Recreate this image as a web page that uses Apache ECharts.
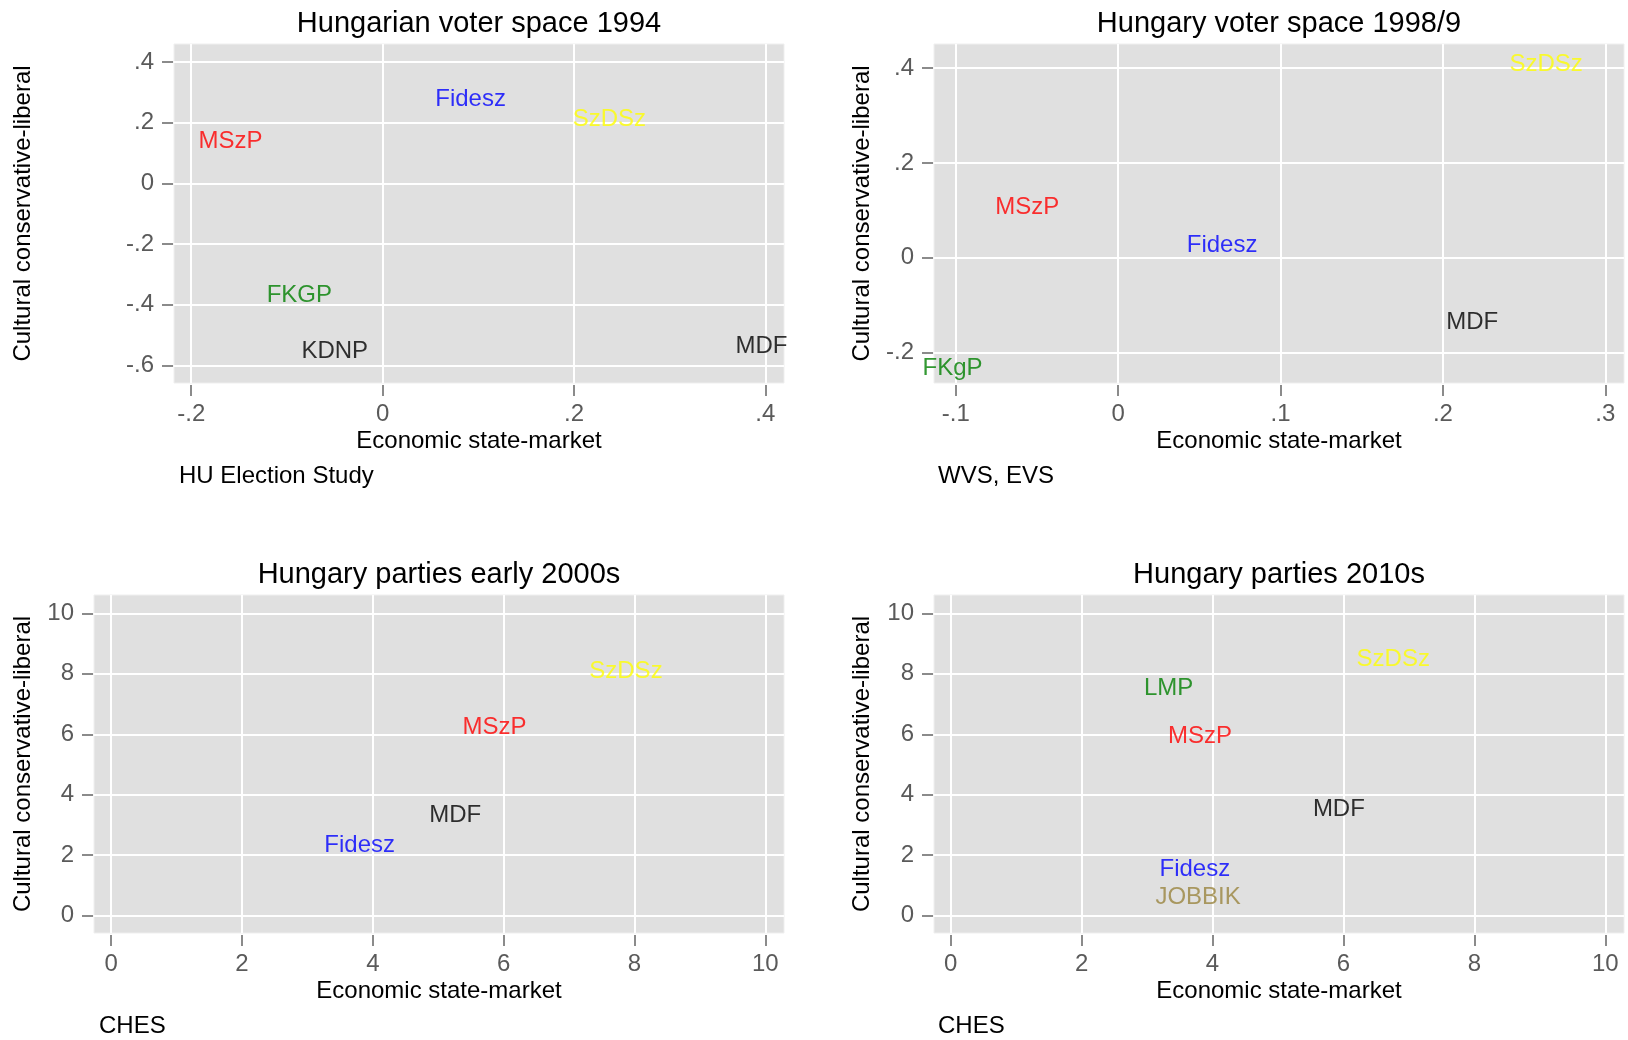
<!DOCTYPE html>
<html lang="en">
<head>
  <meta charset="UTF-8">
  <title>Hungarian party space</title>
  <style>
    body { margin: 0; padding: 0; background: #fff; }
    #chart { width: 1628px; height: 1040px; }
  </style>
</head>
<body>
  <div id="chart"></div>
  <script src="https://cdn.jsdelivr.net/npm/echarts@6/dist/echarts.min.js"></script>
  <script>
// --- data (label centres) ---
var parties1994 = ['MSzP', 'Fidesz', 'SzDSz', 'FKGP', 'KDNP', 'MDF'];
var econ1994    = [-0.159, 0.092, 0.237, -0.087, -0.050, 0.396];
var cult1994    = [0.145, 0.283, 0.218, -0.363, -0.548, -0.531];

var parties1998 = ['SzDSz', 'MSzP', 'Fidesz', 'MDF', 'FKgP'];
var econ1998    = [0.2635, -0.056, 0.064, 0.218, -0.102];
var cult1998    = [0.411, 0.110, 0.030, -0.133, -0.228];

var parties2000s = ['SzDSz', 'MSzP', 'MDF', 'Fidesz'];
var econ2000s    = [7.87, 5.86, 5.26, 3.80];
var cult2000s    = [8.15, 6.29, 3.39, 2.40];

var parties2010s = ['SzDSz', 'LMP', 'MSzP', 'MDF', 'Fidesz', 'JOBBIK'];
var econ2010s    = [6.76, 3.33, 3.81, 5.93, 3.73, 3.78];
var cult2010s    = [8.55, 7.58, 6.01, 3.59, 1.60, 0.67];

var ticks1994X = [-0.2, 0, 0.2, 0.4];
var ticks1994Y = [-0.6, -0.4, -0.2, 0, 0.2, 0.4];
var ticks1998X = [-0.1, 0, 0.1, 0.2, 0.3];
var ticks1998Y = [-0.2, 0, 0.2, 0.4];
var ticksChes  = [0, 2, 4, 6, 8, 10];

var panelTitles = ['Hungarian voter space 1994', 'Hungary voter space 1998/9',
                   'Hungary parties early 2000s', 'Hungary parties 2010s'];
var panelNotes  = ['HU Election Study', 'WVS, EVS', 'CHES', 'CHES'];

// --- styles ---
var partyColor = {
  MSzP: '#ff0000', Fidesz: '#0000ff', SzDSz: '#ffff00', FKGP: '#008000', FKgP: '#008000',
  KDNP: '#000000', MDF: '#000000', LMP: '#008000', JOBBIK: '#9a843e'
};
var FONT = '"Liberation Sans", Arial, Helvetica, sans-serif';

// plot regions (px) and axis extents
var panels = [
  { left: 174, top: 44,  width: 610, height: 339, xr: [-0.218, 0.4195], yr: [-0.658, 0.4595],
    xt: ticks1994X, yt: ticks1994Y, names: parties1994, xs: econ1994, ys: cult1994 },
  { left: 934, top: 44,  width: 690, height: 339, xr: [-0.1134, 0.3115], yr: [-0.264, 0.4507],
    xt: ticks1998X, yt: ticks1998Y, names: parties1998, xs: econ1998, ys: cult1998 },
  { left: 94,  top: 595, width: 690, height: 338, xr: [-0.262, 10.286], yr: [-0.573, 10.606],
    xt: ticksChes, yt: ticksChes, names: parties2000s, xs: econ2000s, ys: cult2000s },
  { left: 934, top: 595, width: 690, height: 338, xr: [-0.254, 10.285], yr: [-0.573, 10.606],
    xt: ticksChes, yt: ticksChes, names: parties2010s, xs: econ2010s, ys: cult2010s }
];

function fmt(v) {
  var s = String(Math.round(v * 10) / 10);
  return s.replace('0.', '.');
}

var grids = [], xAxes = [], yAxes = [], series = [], graphics = [];

panels.forEach(function (p, i) {
  grids.push({
    left: p.left, top: p.top, width: p.width, height: p.height,
    show: true, backgroundColor: '#e0e0e0', borderColor: '#efefef', borderWidth: 1
  });
  xAxes.push({
    type: 'value', gridIndex: i, min: p.xr[0], max: p.xr[1], offset: 2,
    axisLine: { show: false, onZero: false },
    axisTick: { show: true, length: 11, customValues: p.xt, lineStyle: { color: '#666', width: 1.5 } },
    axisLabel: { customValues: p.xt, formatter: fmt, margin: 17, color: '#5a5a5a',
                 fontSize: 24, fontFamily: FONT, showMinLabel: true, showMaxLabel: true },
    splitLine: { show: true, lineStyle: { color: '#ffffff', width: 2 } }
  });
  yAxes.push({
    type: 'value', gridIndex: i, min: p.yr[0], max: p.yr[1], offset: 1,
    axisLine: { show: false, onZero: false },
    axisTick: { show: true, length: 11, customValues: p.yt, lineStyle: { color: '#666', width: 1.5 } },
    axisLabel: { customValues: p.yt, formatter: fmt, margin: 19, color: '#5a5a5a',
                 fontSize: 24, fontFamily: FONT, padding: [4, 0, 0, 0],
                 showMinLabel: true, showMaxLabel: true },
    splitLine: { show: true, lineStyle: { color: '#ffffff', width: 2 } }
  });
  series.push({
    type: 'scatter', xAxisIndex: i, yAxisIndex: i, symbolSize: 1,
    itemStyle: { color: 'transparent' },
    silent: true,
    data: p.names.map(function (n, k) {
      return { name: n, value: [p.xs[k], p.ys[k]], label: { color: partyColor[n] } };
    }),
    label: {
      show: true, position: 'inside', formatter: '{b}', offset: [0, 2],
      fontSize: 24, fontFamily: FONT
    }
  });

  var cx = p.left + p.width / 2;
  var cy = p.top + p.height / 2;
  var bottom = p.top + p.height;
  // panel title
  graphics.push({ type: 'text', x: cx, y: p.top - 20, style: {
    text: panelTitles[i], fill: '#000', font: '29px ' + FONT,
    textAlign: 'center', textVerticalAlign: 'middle' } });
  // x axis title
  graphics.push({ type: 'text', x: cx, y: bottom + 58, style: {
    text: 'Economic state-market', fill: '#000', font: '24px ' + FONT,
    textAlign: 'center', textVerticalAlign: 'middle' } });
  // y axis title
  graphics.push({ type: 'text', x: i % 2 === 0 ? 23 : 862, y: cy, rotation: Math.PI / 2, style: {
    text: 'Cultural conservative-liberal', fill: '#000', font: '24px ' + FONT,
    textAlign: 'center', textVerticalAlign: 'middle' } });
  // source note
  graphics.push({ type: 'text', x: (i % 2 === 0 ? (i === 0 ? 179 : 99) : 938), y: bottom + 93, style: {
    text: panelNotes[i], fill: '#000', font: '24px ' + FONT,
    textAlign: 'left', textVerticalAlign: 'middle' } });
});

var chart = echarts.init(document.getElementById('chart'));
chart.setOption({
  animation: false,
  backgroundColor: '#ffffff',
  grid: grids,
  xAxis: xAxes,
  yAxis: yAxes,
  series: series,
  graphic: graphics
});
  </script>
</body>
</html>
